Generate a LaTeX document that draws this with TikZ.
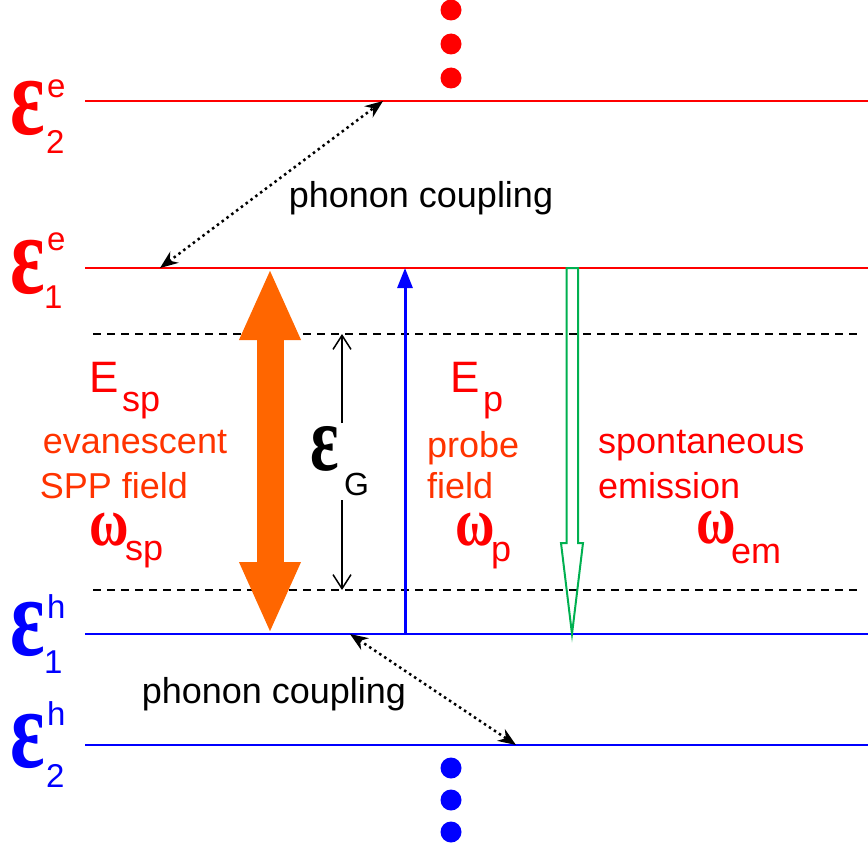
\documentclass[tikz,border=0pt]{standalone}
\usepackage{fontspec}
\setmainfont{Liberation Sans}
\newfontfamily\grkfont{Liberation Serif}
\usetikzlibrary{arrows.meta}
\definecolor{sppred}{RGB}{255,51,0}
\definecolor{sppfill}{RGB}{255,102,0}
\definecolor{emgreen}{RGB}{0,176,80}
\newcommand{\epsglyph}{\scalebox{0.88}[1.23]{\grkfont\bfseries ε}}
\newcommand{\omgglyph}{\scalebox{0.9}[1.15]{\grkfont\bfseries ω}}
\begin{document}
\begin{tikzpicture}[x=1pt,y=-1pt]
\useasboundingbox (0,0) rectangle (868,851);
\tikzstyle{txtnode} = [inner sep=0pt,font=\fontsize{36}{40}\selectfont]
\tikzstyle{bignode} = [inner sep=0pt,font=\fontsize{44}{48}\selectfont]
\tikzstyle{epsnode} = [inner sep=0pt,font=\fontsize{92}{92}\selectfont]
\tikzstyle{omgnode} = [inner sep=0pt,font=\fontsize{60}{60}\selectfont]
\tikzstyle{scrnode} = [inner sep=0pt,font=\fontsize{33}{36}\selectfont]
\tikzstyle{levelline} = [line width=2.5pt]
\tikzstyle{bandline} = [line width=1.5pt,dash pattern=on 8pt off 6pt]
\tikzstyle{phononarrow} = [line width=2.5pt,dash pattern=on 2.5pt off 3.5pt,{Stealth[length=18pt,width=14pt]}-{Stealth[length=18pt,width=14pt]}]
%%%%%%%%%%%%%%%%%%%%%%%%%%%%%
% levels
%%%%%%%%%%%%%%%%%%%%%%%%%%%%%
\coordinate (e2_l) at (85,101);
\coordinate (e2_r) at (868,101);
\coordinate (e1_l) at (85,268);
\coordinate (e1_r) at (868,268);
\coordinate (h1_l) at (85,634);
\coordinate (h1_r) at (868,634);
\coordinate (h2_l) at (85,745);
\coordinate (h2_r) at (868,745);
\draw [levelline,red] (e2_l) -- (e2_r);
\draw [levelline,red] (e1_l) -- (e1_r);
\draw [levelline,blue] (h1_l) -- (h1_r);
\draw [levelline,blue] (h2_l) -- (h2_r);
\coordinate (gt_l) at (93,334);
\coordinate (gt_r) at (860,334);
\coordinate (gb_l) at (93,590);
\coordinate (gb_r) at (860,590);
\draw [bandline] (gt_l) -- (gt_r);
\draw [bandline] (gb_l) -- (gb_r);
% dots above and below
\foreach \y in {10,44,78} \fill [red] (451,\y) circle (10.5);
\foreach \y in {768,800,832} \fill [blue] (451,\y) circle (10.5);
%%%%%%%%%%%%%%%%%%%%%%%%%%%%%
% level labels
%%%%%%%%%%%%%%%%%%%%%%%%%%%%%
\node (le2) [epsnode,red,anchor=base west] at (10,135){\epsglyph};
\node (le2_u) [scrnode,red,anchor=base west] at (47,98){e};
\node (le2_d) [scrnode,red,anchor=base west] at (46,153){2};
\node (le1) [epsnode,red,anchor=base west] at (10,293){\epsglyph};
\node (le1_u) [scrnode,red,anchor=base west] at (47,250){e};
\node (le1_d) [scrnode,red,anchor=base west] at (44,308){1};
\node (lh1) [epsnode,blue,anchor=base west] at (10,655){\epsglyph};
\node (lh1_u) [scrnode,blue,anchor=base west] at (47,618){h};
\node (lh1_d) [scrnode,blue,anchor=base west] at (44,673){1};
\node (lh2) [epsnode,blue,anchor=base west] at (10,767){\epsglyph};
\node (lh2_u) [scrnode,blue,anchor=base west] at (47,725){h};
\node (lh2_d) [scrnode,blue,anchor=base west] at (46,787){2};
%%%%%%%%%%%%%%%%%%%%%%%%%%%%%
% phonon coupling
%%%%%%%%%%%%%%%%%%%%%%%%%%%%%
\coordinate (pc_a) at (383,101);
\coordinate (pc_b) at (160,268);
\coordinate (pc_c) at (350,634);
\coordinate (pc_d) at (516,745);
\draw [phononarrow] (pc_b) -- (pc_a);
\draw [phononarrow] (pc_c) -- (pc_d);
\node (pc1) [txtnode,anchor=base] at (421,207){phonon coupling};
\node (pc2) [txtnode,anchor=base] at (274,703){phonon coupling};
%%%%%%%%%%%%%%%%%%%%%%%%%%%%%
% SPP field
%%%%%%%%%%%%%%%%%%%%%%%%%%%%%
\coordinate (sp_t) at (270,268);
\coordinate (sp_b) at (270,634);
\draw [sppfill,line width=27pt,{Triangle[length=72pt,width=56pt]}-{Triangle[length=72pt,width=56pt]}] (sp_t) -- (sp_b);
\node (a) [bignode,red,anchor=base west] at (89,392){E};
\node (a1) [txtnode,red,anchor=base west] at (122,411){sp};
\node (a2) [txtnode,sppred,anchor=base] at (135,453){evanescent};
\node (a3) [txtnode,sppred,anchor=base] at (114,498){SPP field};
\node (a4) [omgnode,red,anchor=base west] at (89,545){\omgglyph};
\node (a4_1) [txtnode,red,anchor=base west] at (125,560){sp};
%%%%%%%%%%%%%%%%%%%%%%%%%%%%%
% gap
%%%%%%%%%%%%%%%%%%%%%%%%%%%%%
\node (g) [epsnode,font=\fontsize{76}{76}\selectfont,anchor=base west] at (310,470){\epsglyph};
\node (g1) [txtnode,font=\fontsize{32}{36}\selectfont,anchor=base west] at (344,495){G};
\coordinate (g_t) at (342,334);
\coordinate (g_b) at (342,590);
\coordinate (g_t1) at (342,423);
\coordinate (g_b1) at (342,500);
\draw [line width=1.5pt,-{Straight Barb[length=14pt,width=18pt]}] (g_t1) -- (g_t);
\draw [line width=1.5pt,-{Straight Barb[length=14pt,width=18pt]}] (g_b1) -- (g_b);
%%%%%%%%%%%%%%%%%%%%%%%%%%%%%
% probe field
%%%%%%%%%%%%%%%%%%%%%%%%%%%%%
\coordinate (p_b) at (405,634);
\coordinate (p_t) at (405,268);
\draw [blue,line width=3pt,-{Triangle[length=20pt,width=15pt]}] (p_b) -- (p_t);
\node (b) [bignode,red,anchor=base west] at (450,392){E};
\node (b1) [txtnode,red,anchor=base west] at (483,411){p};
\node (b2) [txtnode,sppred,anchor=base west] at (427,457){probe};
\node (b3) [txtnode,sppred,anchor=base west] at (427,498){field};
\node (b4) [omgnode,red,anchor=base west] at (455,545){\omgglyph};
\node (b4_1) [txtnode,red,anchor=base west] at (491,561){p};
%%%%%%%%%%%%%%%%%%%%%%%%%%%%%
% spontaneous emission
%%%%%%%%%%%%%%%%%%%%%%%%%%%%%
\draw [emgreen,line width=2pt] (566.5,268) -- (578,268) -- (578,543) -- (583,543) -- (572,634) -- (561,543) -- (566.5,543) -- cycle;
\node (c) [txtnode,red,anchor=base west] at (598,453){spontaneous};
\node (c1) [txtnode,red,anchor=base west] at (598,498){emission};
\node (c2) [omgnode,red,anchor=base west] at (696,543){\omgglyph};
\node (c2_1) [txtnode,red,anchor=base west] at (731,563){em};
\end{tikzpicture}
\end{document}
